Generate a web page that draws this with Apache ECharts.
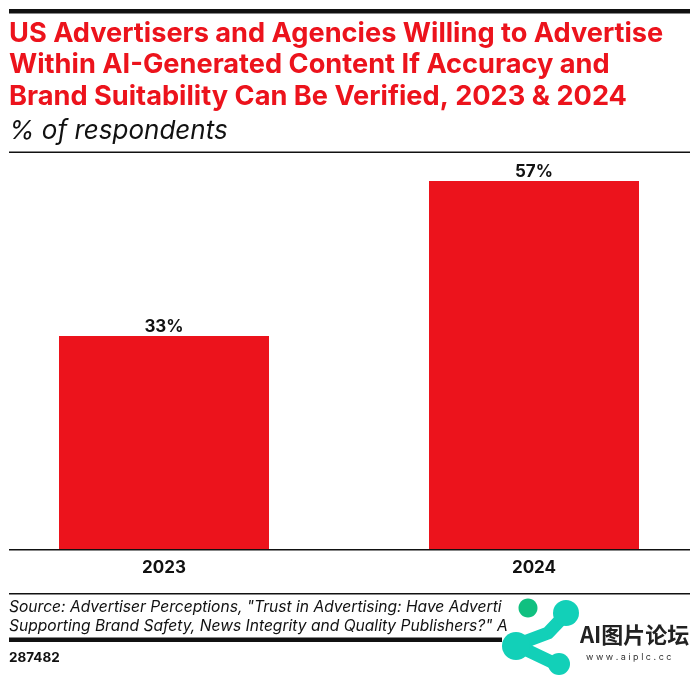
<!DOCTYPE html>
<html>
<head>
<meta charset="utf-8">
<style>html,body{margin:0;padding:0;background:#fff}#chart{width:700px;height:677px}</style>
<script src="https://cdn.jsdelivr.net/npm/echarts@6/dist/echarts.min.js"></script>
</head>
<body>
<div id="chart"></div>
<script>
var categories = ['2023', '2024'];
var values = [33, 57];
var titleLines = [
    'US Advertisers and Agencies Willing to Advertise',
    'Within AI-Generated Content If Accuracy and',
    'Brand Suitability Can Be Verified, 2023 & 2024'
];
var subtitle = '% of respondents';
var sourceLines = [
    'Source: Advertiser Perceptions, "Trust in Advertising: Have Adverti',
    'Supporting Brand Safety, News Integrity and Quality Publishers?" A'
];
var chartId = '287482';

var RED = '#ec131c';
var FONT = 'Inter, sans-serif';

function rule(y, h, x2) {
    return { type: 'rect', shape: { x: 9, y: y, width: (x2 || 690) - 9, height: h }, style: { fill: '#111' } };
}
function text(x, y, str, font, fill) {
    return { type: 'text', x: x, y: y, style: { text: str, font: font, fill: fill || '#111', textVerticalAlign: 'middle' } };
}

var graphics = [
    rule(9, 4.5),
    rule(151.5, 1.5),
    rule(549, 1.5),
    rule(593, 1.5),
    rule(637.5, 4.5, 502)
];
titleLines.forEach(function (t, i) {
    graphics.push(text(9, 33.5 + i * 31.7, t, 'bold 27.2px ' + FONT, RED));
});
graphics.push(text(9, 131, subtitle, 'italic 26px ' + FONT));
sourceLines.forEach(function (t, i) {
    graphics.push(text(9, 607 + i * 19, t, 'italic 15.6px ' + FONT));
});
graphics.push(text(9, 658, chartId, 'bold 13.5px ' + FONT));

// watermark sitting over the bottom right of the source note
graphics.push({ type: 'ellipse', shape: { cx: 528, cy: 608, rx: 9.5, ry: 9.5 }, style: { fill: '#10c080' } });
graphics.push({ type: 'polyline', shape: { points: [[567, 613], [548, 633], [516, 645], [558, 665]] },
    style: { stroke: '#12d0b8', lineWidth: 13, lineCap: 'round', lineJoin: 'round', fill: null } });
graphics.push({ type: 'circle', shape: { cx: 566, cy: 613, r: 13 }, style: { fill: '#12d0b8' } });
graphics.push({ type: 'circle', shape: { cx: 516, cy: 646, r: 14 }, style: { fill: '#12d0b8' } });
graphics.push({ type: 'circle', shape: { cx: 559, cy: 664, r: 11 }, style: { fill: '#12d0b8' } });
graphics.push(text(580, 635, 'AI图片论坛', 'bold 22px "Noto Sans CJK SC"', '#222'));
graphics.push(text(586, 657, 'w w w . a i p l c . c c', '9px ' + FONT, '#333'));

var myChart = echarts.init(document.getElementById('chart'), null, { renderer: 'canvas' });
myChart.setOption({
    animation: false,
    backgroundColor: '#fff',
    grid: { left: -21, width: 740, top: 161.6, bottom: 128, outerBoundsMode: 'none' },
    xAxis: {
        type: 'category',
        data: categories,
        axisLine: { show: false },
        axisTick: { show: false },
        axisLabel: { color: '#111', fontFamily: FONT, fontWeight: 'bold', fontSize: 17, margin: 10 }
    },
    yAxis: {
        type: 'value',
        min: 0,
        max: 60,
        axisLine: { show: false },
        axisTick: { show: false },
        axisLabel: { show: false },
        splitLine: { show: false }
    },
    series: [{
        type: 'bar',
        data: values,
        barWidth: 210,
        itemStyle: { color: RED },
        label: {
            show: true,
            position: 'top',
            distance: 1,
            formatter: '{c}%',
            color: '#111',
            fontFamily: FONT,
            fontWeight: 'bold',
            fontSize: 17
        }
    }],
    graphic: graphics
});
</script>
</body>
</html>
